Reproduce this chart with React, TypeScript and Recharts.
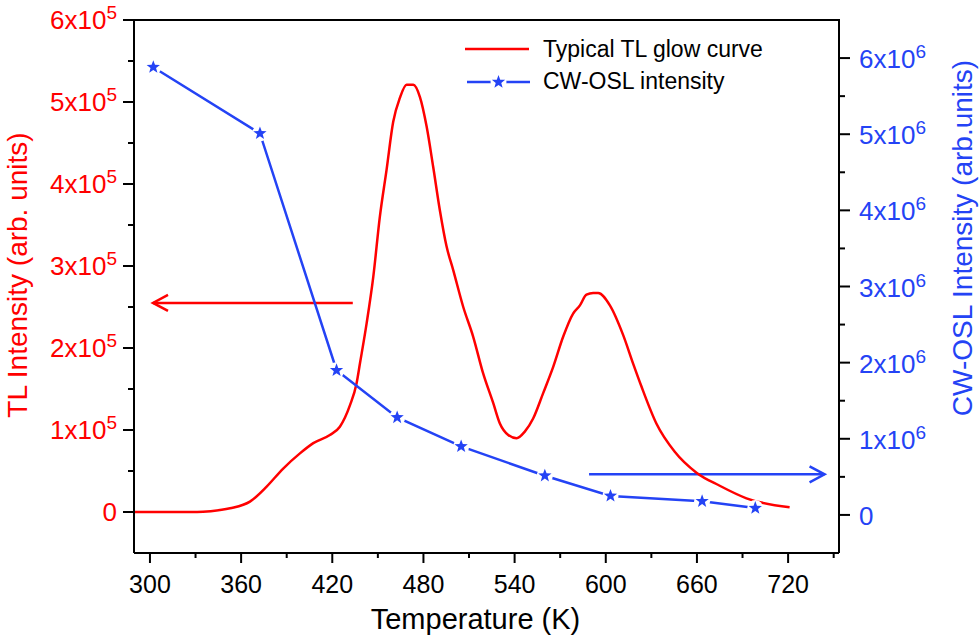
import { LineChart, Line, XAxis, YAxis, ReferenceLine, Customized } from 'recharts';

const RED = '#ff0000';
const BLUE = '#2443f5';
const FONT = '"Liberation Sans", Arial, Helvetica, sans-serif';

// TL glow curve (K, counts)
const tlTemps = [
  290, 300, 315, 331, 340, 352.7, 365.8, 376.8, 387.7, 398.7, 407.5, 418.4, 425, 431.6, 436,
  438.2, 442.6, 447, 451.3, 455.7, 460.1, 464.5, 468.9, 473.3, 477.7, 482.1, 486.4, 490.8,
  495.2, 499.6, 506.2, 512.7, 519.3, 525.9, 530.3, 535.8, 541.3, 546.7, 552.2, 558.8, 565.4,
  572, 578.5, 583, 587.3, 591.7, 595, 602.7, 611.4, 618, 623.5, 633.3, 645.4, 659.7, 675,
  692.6, 721,
];
const tlCounts = [
  0, 0, 0, 0, 1000, 4500, 12600, 31000, 53000, 71500, 84000, 94000, 104000, 130000, 157000,
  181000, 230000, 287000, 360000, 417000, 476000, 505000, 521000, 521000, 506000, 470000,
  421000, 368000, 324000, 295000, 250000, 214000, 169000, 133000, 108000, 94000, 90000, 98000,
  114000, 145000, 177000, 214000, 242000, 252000, 265000, 267000, 267000, 252000, 216000,
  181000, 153000, 108000, 73500, 48000, 32000, 16700, 5700,
];

// CW-OSL intensity points
const oslTemps = [302.2, 372.4, 422.8, 462.7, 504.8, 559.9, 603.1, 663.4, 698.4];
const oslCounts = [5880000, 5010000, 1900000, 1280000, 900000, 515000, 250000, 180000, 90000];

// axes
const xDomain = [289.5, 753.5];
const xTicks = [300, 330, 360, 390, 420, 450, 480, 510, 540, 570, 600, 630, 660, 690, 720, 750];
const tlDomain = [-50000, 600000];
const tlTicks = [0, 50000, 100000, 150000, 200000, 250000, 300000, 350000, 400000, 450000, 500000, 550000, 600000];
const oslDomain = [-500000, 6500000];
const oslTicks = [0, 500000, 1000000, 1500000, 2000000, 2500000, 3000000, 3500000, 4000000, 4500000, 5000000, 5500000, 6000000];

// arrows pointing to each axis
const tlArrow = [{ x: 433.5, y: 255000 }, { x: 302, y: 255000 }];
const oslArrow = [{ x: 589, y: 533000 }, { x: 744, y: 533000 }];

const tlData = tlTemps.map((t, i) => ({ t, tl: tlCounts[i] }));
const oslData = oslTemps.map((t, i) => ({ t, osl: oslCounts[i] }));

// plot box in pixels
const PLOT_LEFT = 134;
const PLOT_RIGHT = 839;
const PLOT_TOP = 20;
const PLOT_BOTTOM = 553;

function starPoints(cx: number, cy: number, R: number, r: number) {
  const pts: string[] = [];
  for (let k = 0; k < 10; k++) {
    const a = -Math.PI / 2 + (k * Math.PI) / 5;
    const rad = k % 2 === 0 ? R : r;
    pts.push(`${cx + rad * Math.cos(a)},${cy + rad * Math.sin(a)}`);
  }
  return pts.join(' ');
}

function StarDot(props: any) {
  const { cx, cy } = props;
  if (cx == null || cy == null) return null;
  return (
    <g>
      <circle cx={cx} cy={cy} r={8} fill="#fff" />
      <polygon points={starPoints(cx, cy, 7, 2.9)} fill={BLUE} />
    </g>
  );
}

function XTick(props: any) {
  const { x, y, payload } = props;
  const major = payload.value % 60 === 0;
  return (
    <g>
      <line x1={x} x2={x} y1={y} y2={y + (major ? 10 : 5)} stroke="#000" strokeWidth={2} />
      {major && (
        <text x={x} y={y + 40} textAnchor="middle" fontSize={25} fontFamily={FONT} fill="#000">
          {payload.value}
        </text>
      )}
    </g>
  );
}

function LeftTick(props: any) {
  const { x, y, payload } = props;
  const v = payload.value;
  const major = v % 100000 === 0;
  return (
    <g>
      <line x1={x - (major ? 11 : 6)} x2={x} y1={y} y2={y} stroke="#000" strokeWidth={2} />
      {major && (
        <text x={x - 17} y={y + 9} textAnchor="end" fontSize={26} fontFamily={FONT} fill={RED}>
          {v === 0 ? '0' : `${v / 100000}x10`}
          {v !== 0 && (
            <tspan dy={-10} fontSize={19}>
              5
            </tspan>
          )}
        </text>
      )}
    </g>
  );
}

function RightTick(props: any) {
  const { x, y, payload } = props;
  const v = payload.value;
  const major = v % 1000000 === 0;
  return (
    <g>
      <line x1={x} x2={x + (major ? 11 : 6)} y1={y} y2={y} stroke="#000" strokeWidth={2} />
      {major && (
        <text x={x + 20} y={y + 10} textAnchor="start" fontSize={26} fontFamily={FONT} fill={BLUE}>
          {v === 0 ? '0' : `${v / 1000000}x10`}
          {v !== 0 && (
            <tspan dy={-10} fontSize={19}>
              6
            </tspan>
          )}
        </text>
      )}
    </g>
  );
}

function arrowShape(color: string) {
  return (p: any) => {
    const { x1, y1, x2, y2 } = p;
    const dir = x2 > x1 ? 1 : -1;
    return (
      <g>
        <line x1={x1} y1={y1} x2={x2} y2={y2} stroke={color} strokeWidth={2.5} />
        <polyline
          points={`${x2 - dir * 15},${y2 - 8} ${x2},${y2} ${x2 - dir * 15},${y2 + 8}`}
          fill="none"
          stroke={color}
          strokeWidth={2.5}
        />
      </g>
    );
  };
}

function Overlay() {
  return (
    <g fontFamily={FONT}>
      {/* top edge of the plot box */}
      <rect x={PLOT_LEFT - 1} y={PLOT_TOP - 1} width={PLOT_RIGHT - PLOT_LEFT + 2} height={2} fill="#000" />
      <text x={17.5} y={275} fontSize={28} fill={RED} textAnchor="middle" dominantBaseline="central" transform="rotate(-90 17.5 275)">
        TL Intensity (arb. units)
      </text>
      <text x={962.5} y={238} fontSize={28} fill={BLUE} textAnchor="middle" dominantBaseline="central" transform="rotate(-90 962.5 238)">
        CW-OSL Intensity (arb.units)
      </text>
      <text x={475.5} y={629} fontSize={29} fill="#000" textAnchor="middle">
        Temperature (K)
      </text>
      {/* legend */}
      <line x1={465} x2={529} y1={49} y2={49} stroke={RED} strokeWidth={2.5} />
      <text x={543} y={57} fontSize={23} fill="#000">
        Typical TL glow curve
      </text>
      <line x1={467} x2={530} y1={82} y2={82} stroke={BLUE} strokeWidth={2.5} />
      <StarDot cx={498.5} cy={82} />
      <text x={543} y={89} fontSize={23} fill="#000">
        CW-OSL intensity
      </text>
    </g>
  );
}

export default function App() {
  return (
    <div style={{ position: 'absolute', left: 0, top: 0, background: '#fff' }}>
      <LineChart width={980} height={641} margin={{ top: PLOT_TOP, right: 0, bottom: 0, left: 0 }}>
        <XAxis
          dataKey="t"
          type="number"
          domain={xDomain}
          ticks={xTicks}
          interval={0}
          allowDataOverflow
          height={641 - PLOT_BOTTOM}
          tickSize={0}
          tickMargin={0}
          tick={<XTick />}
          axisLine={{ stroke: '#000', strokeWidth: 2 }}
          tickLine={false}
        />
        <YAxis
          yAxisId="left"
          orientation="left"
          type="number"
          width={PLOT_LEFT}
          domain={tlDomain}
          ticks={tlTicks}
          interval={0}
          allowDataOverflow
          tickSize={0}
          tickMargin={0}
          tick={<LeftTick />}
          tickLine={false}
          axisLine={{ stroke: '#000', strokeWidth: 2 }}
        />
        <YAxis
          yAxisId="right"
          orientation="right"
          type="number"
          width={980 - PLOT_RIGHT}
          domain={oslDomain}
          ticks={oslTicks}
          interval={0}
          allowDataOverflow
          tickSize={0}
          tickMargin={0}
          tick={<RightTick />}
          tickLine={false}
          axisLine={{ stroke: '#000', strokeWidth: 2 }}
        />
        <ReferenceLine yAxisId="left" segment={tlArrow} shape={arrowShape(RED)} />
        <ReferenceLine yAxisId="right" segment={oslArrow} shape={arrowShape(BLUE)} />
        <Line
          yAxisId="left"
          data={tlData}
          dataKey="tl"
          type="monotone"
          stroke={RED}
          strokeWidth={2.5}
          dot={false}
          isAnimationActive={false}
        />
        <Line
          yAxisId="right"
          data={oslData}
          dataKey="osl"
          type="linear"
          stroke={BLUE}
          strokeWidth={2.5}
          dot={(p: any) => <StarDot key={`s${p.index}`} cx={p.cx} cy={p.cy} />}
          isAnimationActive={false}
        />
        <Customized component={<Overlay />} />
      </LineChart>
    </div>
  );
}
